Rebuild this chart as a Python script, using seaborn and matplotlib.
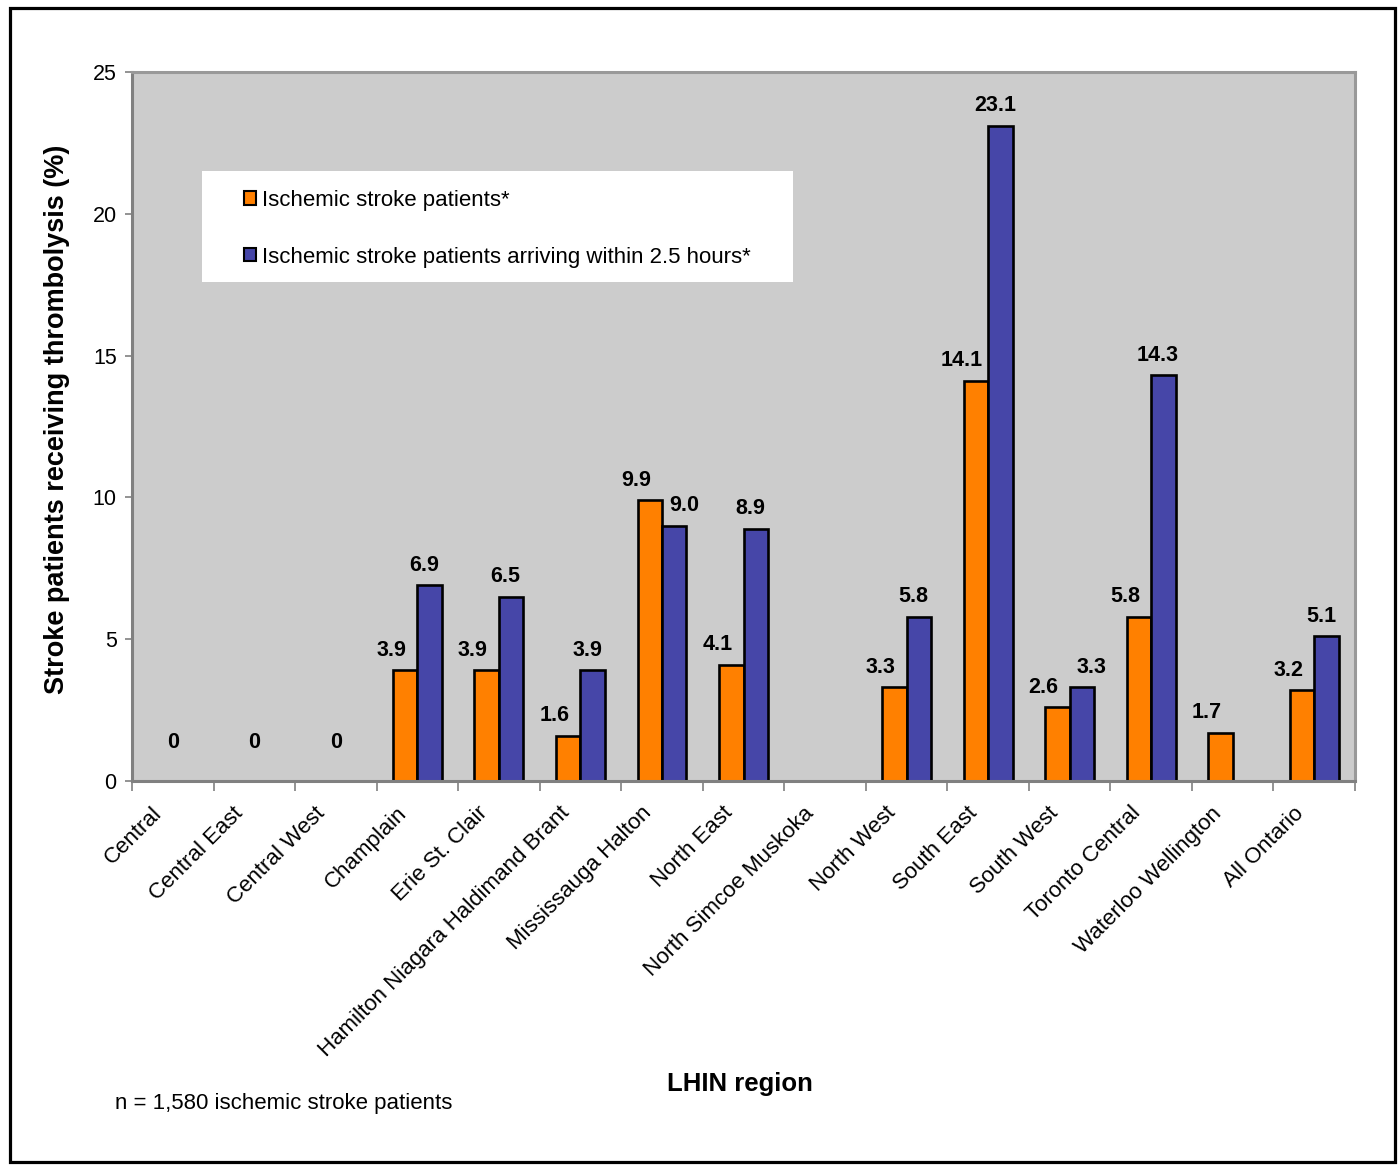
import numpy as np
import pandas as pd
import matplotlib
matplotlib.use("Agg")
import matplotlib.pyplot as plt
from matplotlib.patches import Patch, Rectangle
from matplotlib.transforms import ScaledTranslation
import seaborn as sns

# LHIN regions and thrombolysis rates (%)
regions = [
    "Central", "Central East", "Central West", "Champlain", "Erie St. Clair",
    "Hamilton Niagara Haldimand Brant", "Mississauga Halton", "North East",
    "North Simcoe Muskoka", "North West", "South East", "South West",
    "Toronto Central", "Waterloo Wellington", "All Ontario",
]
all_patients = [0, 0, 0, 3.9, 3.9, 1.6, 9.9, 4.1, np.nan, 3.3, 14.1, 2.6, 5.8, 1.7, 3.2]
within_2_5h = [np.nan, np.nan, np.nan, 6.9, 6.5, 3.9, 9.0, 8.9, np.nan, 5.8, 23.1, 3.3, 14.3, np.nan, 5.1]
series_names = [
    "Ischemic stroke patients*",
    "Ischemic stroke patients arriving within 2.5 hours*",
]
sample_note = "n = 1,580 ischemic stroke patients"

ORANGE = "#FF8000"
BLUE = "#4646A8"

df = pd.DataFrame({
    "region": regions * 2,
    "series": [series_names[0]] * len(regions) + [series_names[1]] * len(regions),
    "value": all_patients + within_2_5h,
})

sns.set_theme(style="white")
plt.rcParams["font.family"] = ["Liberation Sans", "DejaVu Sans"]
plt.rcParams["text.color"] = "black"
plt.rcParams["axes.labelcolor"] = "black"
plt.rcParams["xtick.color"] = "black"
plt.rcParams["ytick.color"] = "black"

W, H = 1400, 1165
fig = plt.figure(figsize=(W / 100, H / 100), dpi=100)
ax = fig.add_axes([132 / W, 1 - 781 / H, (1355 - 132) / W, (781 - 72) / H])
ax.set_facecolor("#CCCCCC")

sns.barplot(
    data=df, x="region", y="value", hue="series", order=regions,
    hue_order=series_names, palette=[ORANGE, BLUE], width=0.6,
    edgecolor="black", linewidth=1.9, errorbar=None, legend=False,
    saturation=1, ax=ax,
)
# hide the outline of zero-height bars
for p in ax.patches:
    if p.get_height() == 0:
        p.set_linewidth(0)

ax.set_xlim(-0.5, len(regions) - 0.5)
ax.set_ylim(0, 25)
ax.set_yticks(range(0, 26, 5))

# value labels
lab_kw = dict(textcoords="offset points", ha="center", va="bottom",
              fontsize=15.5, fontweight="bold", color="black")
for i, (a, b) in enumerate(zip(all_patients, within_2_5h)):
    if not np.isnan(a):
        if a == 0:
            ax.annotate("0", xy=(i, a), xytext=(0, 20), **lab_kw)
        else:
            ax.annotate(f"{a:.1f}", xy=(i - 0.15, a), xytext=(-10, 7), **lab_kw)
    if not np.isnan(b):
        dx = 7 if (not np.isnan(a) and abs(a - b) < 1.5) else -4
        ax.annotate(f"{b:.1f}", xy=(i + 0.15, b), xytext=(dx, 7), **lab_kw)

# axes styling
for side in ["top", "right", "left", "bottom"]:
    ax.spines[side].set_visible(True)
    ax.spines[side].set_color("#999999")
    ax.spines[side].set_linewidth(2.2)
ax.spines["left"].set_color("#808080")
ax.spines["bottom"].set_color("#808080")

ax.tick_params(axis="y", which="major", direction="out", length=5, width=1.2,
               color="#808080", labelsize=15.5, pad=6, left=True)
ax.set_xticks(range(len(regions)))
ax.set_xticklabels(regions, rotation=45, ha="right", va="center",
                   rotation_mode="anchor", fontsize=16)
ax.tick_params(axis="x", which="major", length=0, pad=21)
shift = ScaledTranslation(-14 / 100, 0, fig.dpi_scale_trans)
for lab in ax.get_xticklabels():
    lab.set_transform(lab.get_transform() + shift)
ax.set_xticks(np.arange(-0.5, len(regions), 1), minor=True)
ax.tick_params(axis="x", which="minor", direction="out", length=7, width=1.2,
               color="#808080", bottom=True)

ax.set_ylabel("Stroke patients receiving thrombolysis (%)", fontsize=19.5,
              fontweight="bold")
ax.yaxis.set_label_coords((57 - 132) / 1223, (781 - 419) / 709)
ax.yaxis.label.set_va("center")
ax.set_xlabel("LHIN region", fontsize=18.5, fontweight="bold")
ax.xaxis.set_label_coords((740 - 132) / 1223, (781 - 1084) / (781 - 72))
ax.xaxis.label.set_va("center")

# legend panel
ax.add_patch(Rectangle(((202 - 132) / 1223, (781 - 282) / 709),
                       (793 - 202) / 1223, (282 - 171) / 709,
                       transform=ax.transAxes, facecolor="white",
                       edgecolor="none", zorder=4))
handles = [Patch(facecolor=ORANGE, edgecolor="black", linewidth=1.5),
           Patch(facecolor=BLUE, edgecolor="black", linewidth=1.5)]
leg = ax.legend(
    handles, series_names, loc="upper left",
    bbox_to_anchor=((244 - 132) / 1223, (781 - 190) / 709),
    fontsize=16, frameon=False,
    handlelength=0.55, handleheight=0.55, handletextpad=0.28,
    labelspacing=1.6, borderpad=0, borderaxespad=0,
)
leg.set_zorder(5)

fig.text(115 / W, 1 - 1103 / H, sample_note, fontsize=16, ha="left", va="center")

# outer frame
fig.patches.append(Rectangle((10 / W, 1 - 1162 / H), (1395 - 10) / W, (1162 - 8) / H,
                             transform=fig.transFigure, fill=False,
                             edgecolor="black", linewidth=2.3))

fig.savefig("out.png", dpi=100, facecolor="white")
